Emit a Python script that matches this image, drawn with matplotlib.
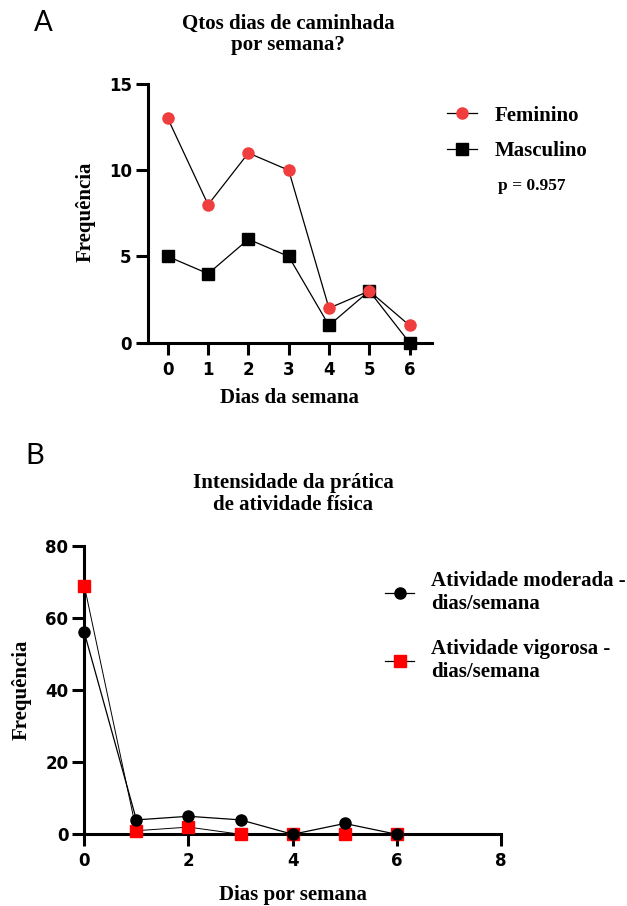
import matplotlib
matplotlib.use("Agg")
import matplotlib.pyplot as plt
from matplotlib.lines import Line2D

# ---- data ----
dias_a = [0, 1, 2, 3, 4, 5, 6]
feminino = [13, 8, 11, 10, 2, 3, 1]
masculino = [5, 4, 6, 5, 1, 3, 0]
p_valor = "p = 0.957"

dias_b = [0, 1, 2, 3, 4, 5, 6]
moderada = [56, 4, 5, 4, 0, 3, 0]
vigorosa = [69, 1, 2, 0, 0, 0, 0]

yticks_a = [0, 5, 10, 15]
xticks_b = [0, 2, 4, 6, 8]
yticks_b = [0, 20, 40, 60, 80]

# ---- styles ----
W, H = 627, 906
RED_A = "#F03D3D"
RED_B = "#FF0000"
SERIF = "Liberation Serif"
TICKFONT = dict(family="DejaVu Sans", weight="bold", size=12)
LABELFONT = dict(family=SERIF, weight="bold", size=15)


def fx(x):
    return x / W


def fy(y):
    return 1 - y / H


fig = plt.figure(figsize=(W / 100, H / 100), dpi=100)
fig.patch.set_facecolor("white")


def style_axes(ax):
    for s in ("top", "right"):
        ax.spines[s].set_visible(False)
    for s in ("left", "bottom"):
        ax.spines[s].set_linewidth(2.2)
        ax.spines[s].set_capstyle("projecting")
    ax.tick_params(direction="out", length=8.5, width=2.2, pad=3)
    ax.tick_params(axis="x", pad=4.5)
    for lab in ax.get_xticklabels() + ax.get_yticklabels():
        lab.set_fontfamily(TICKFONT["family"])
        lab.set_fontweight(TICKFONT["weight"])
        lab.set_fontsize(TICKFONT["size"])


# ---------------- Panel A ----------------
axA = fig.add_axes([fx(147.7), fy(342.7), fx(431.7) - fx(147.7), fy(84) - fy(342.7)])
axA.plot(dias_a, masculino, color="black", lw=0.9, marker="s", ms=8,
         mfc="black", mec="black", clip_on=False, zorder=4, label="Masculino")
axA.plot(dias_a, feminino, color="black", lw=0.9, marker="o", ms=8,
         mfc=RED_A, mec=RED_A, clip_on=False, zorder=5, label="Feminino")
axA.set_xlim(-0.5, 6.55)
axA.set_ylim(0, 15)
axA.set_xticks(dias_a)
axA.set_yticks(yticks_a)
style_axes(axA)

hA = [Line2D([], [], color="black", lw=0.9, marker="o", ms=8, mfc=RED_A, mec=RED_A),
      Line2D([], [], color="black", lw=0.9, marker="s", ms=8, mfc="black", mec="black")]
fig.legend(hA, ["Feminino", "Masculino"], loc="center left",
           bbox_to_anchor=(fx(447), fy(133.4)), frameon=False,
           prop=dict(family=SERIF, weight="bold", size=15),
           handlelength=1.45, handletextpad=0.85, labelspacing=0.75,
           borderpad=0, borderaxespad=0)
fig.text(fx(497.7), fy(186), p_valor, ha="left", va="center",
         family=SERIF, weight="bold", size=12.5)

fig.text(fx(288), fy(34.4), "Qtos dias de caminhada\npor semana?", ha="center",
         va="center", linespacing=1.05, **LABELFONT)
fig.text(fx(86), fy(211.7), "Frequência", rotation=90, ha="center", va="center",
         **LABELFONT)
fig.text(fx(289), fy(398.3), "Dias da semana", ha="center", va="center", **LABELFONT)
fig.text(fx(43), fy(23), "A", ha="center", va="center", family="Lato", size=20)

# ---------------- Panel B ----------------
axB = fig.add_axes([fx(84.3), fy(834.3), fx(501) - fx(84.3), fy(546) - fy(834.3)])
axB.plot(dias_b, vigorosa, color="black", lw=0.7, marker="s", ms=8.5,
         mfc=RED_B, mec=RED_B, clip_on=False, zorder=4,
         label="Atividade vigorosa -\ndias/semana")
axB.plot(dias_b, moderada, color="black", lw=0.9, marker="o", ms=8,
         mfc="black", mec="black", clip_on=False, zorder=5,
         label="Atividade moderada -\ndias/semana")
axB.set_xlim(0, 8)
axB.set_ylim(0, 80)
axB.set_xticks(xticks_b)
axB.set_yticks(yticks_b)
style_axes(axB)

hB = [Line2D([], [], color="black", lw=0.9, marker="o", ms=8, mfc="black", mec="black"),
      Line2D([], [], color="black", lw=0.9, marker="s", ms=8.5, mfc=RED_B, mec=RED_B)]
fig.legend(hB, ["Atividade moderada -\ndias/semana", "Atividade vigorosa -\ndias/semana"],
           loc="center left", bbox_to_anchor=(fx(385), fy(626.7)), frameon=False,
           prop=dict(family=SERIF, weight="bold", size=15),
           handlelength=1.4, handletextpad=0.8, labelspacing=1.2,
           borderpad=0, borderaxespad=0)

fig.text(fx(293), fy(494), "Intensidade da prática\nde atividade física", ha="center",
         va="center", linespacing=1.1, **LABELFONT)
fig.text(fx(22), fy(690), "Frequência", rotation=90, ha="center", va="center",
         **LABELFONT)
fig.text(fx(292.6), fy(895), "Dias por semana", ha="center", va="center", **LABELFONT)
fig.text(fx(34.5), fy(456.5), "B", ha="center", va="center", family="Lato", size=21)

fig.savefig("out.png", dpi=100, facecolor="white")
